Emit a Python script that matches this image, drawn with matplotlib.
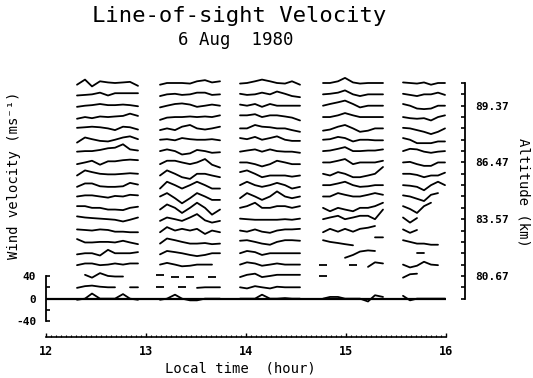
import matplotlib.pyplot as plt
import numpy as np

plt.rcParams['font.family'] = ['DejaVu Sans Mono', 'DejaVu Sans']

nan = np.nan

# DATA
# profile altitudes (km), top row first
altitudes = [90.53, 89.95, 89.37, 88.79, 88.21, 87.63, 87.05, 86.47, 85.89, 85.31,
             84.73, 84.15, 83.57, 82.99, 82.41, 81.83, 81.25, 80.67, 80.09, 79.51]

# sample times (local hour) for the five observing blocks
t1 = [12.31, 12.39, 12.46, 12.54, 12.62, 12.69, 12.77, 12.84, 12.92]
t2 = [13.14, 13.21, 13.29, 13.36, 13.44, 13.51, 13.59, 13.66, 13.74]
t3 = [13.94, 14.01, 14.09, 14.16, 14.24, 14.31, 14.39, 14.46, 14.54]
t4 = [14.77, 14.84, 14.92, 14.99, 15.07, 15.14, 15.22, 15.29, 15.37]
t5 = [15.57, 15.64, 15.71, 15.78, 15.85, 15.92, 15.99]

# line-of-sight wind (m/s), one row per altitude, nan = no data
v1 = [
    [-3, 6, -6, 3, 1, 0, 1, 2, -5],
    [-2, -1, 0, 3, -2, 2, 2, 2, 2],
    [-2, 0, 1, 3, 1, 1, 2, 1, -1],
    [-3, 0, -2, 1, 0, 1, 2, 6, 2],
    [1, 2, 3, 2, 0, -3, 3, 2, -2],
    [-5, 4, 1, -2, -3, 0, 4, 6, 1],
    [-1, 0, 0, 2, 5, 6, 12, 3, 1],
    [-3, 0, 3, -4, 2, 2, 4, 5, 4],
    [-3, 6, 3, 0, -1, -1, 0, 1, 0],
    [-3, 3, 3, -2, -3, -3, -2, 4, 1],
    [0, 2, 2, 0, -2, 1, 0, 3, 2],
    [3, 3, 0, 0, -3, -3, -4, 0, 2],
    [5, 3, 2, 1, 0, -1, -4, -1, 3],
    [2, 1, 0, 2, 1, -2, -2, -3, -3],
    [5, -1, -1, 0, 0, -1, 2, -1, -4],
    [-2, 0, 0, -4, 6, 0, 0, 0, 2],
    [-1, 2, 2, -1, 0, 2, 0, 2, 2],
    [nan, 2, -3, 5, 0, -1, -1, nan, nan],
    [-1, 2, 3, 1, 0, 0, nan, 0, 0],
    [-2, 0, 9, 0, 0, 0, 8, 0, -2],
]
v2 = [
    [-3, 0, 0, 0, -1, 3, 5, 1, 3],
    [-3, 0, 1, -1, 0, 3, 3, -1, 0],
    [-3, 0, 3, 4, 2, -2, 0, 2, 0],
    [-5, -1, 0, 0, 1, 0, 1, 0, 3],
    [-3, 0, -3, 3, 6, 0, -2, 0, 3],
    [0, 1, -1, 3, 1, 0, 0, 1, -1],
    [0, 3, 0, -6, -4, 2, 0, -3, -2],
    [-3, 3, 3, 0, -3, 0, 6, -4, -9],
    [-3, 6, 0, -6, -9, 0, 0, -3, -6],
    [-6, 6, 0, -6, 0, 6, 0, -6, -6],
    [0, 6, -3, -12, -3, 6, 0, -6, -6],
    [-3, 6, 0, -9, 0, 9, 0, -12, -3],
    [-3, 3, 0, -3, 3, 9, -2, -6, -3],
    [-3, 6, 0, 3, 0, 3, -6, 0, -3],
    [-3, 6, 3, 0, -3, -3, -2, -4, -3],
    [-2, 4, 2, 0, -3, -5, -3, 0, 0],
    [0, 3, 0, -3, -2, 0, 0, 0, nan],
    [2, nan, -2, nan, -2, nan, nan, -1, nan],
    [0, nan, nan, 0, nan, -1, 0, 0, 0],
    [-2, 0, 7, 0, -3, -3, 0, 0, 0],
]
v3 = [
    [-1, 0, 3, 6, 3, 0, -1, 3, -3],
    [1, -1, 0, 3, 0, 5, 1, -3, -5],
    [2, 0, 3, -2, 3, 0, 0, 0, 0],
    [3, 3, 5, 0, 3, 3, 1, -1, -6],
    [0, 0, 6, 3, 2, 0, 0, -3, -6],
    [3, 1, 5, 0, 3, 6, 0, -2, -2],
    [-1, 1, 3, -1, 3, 0, -1, -1, -3],
    [0, 0, -3, -7, -3, 3, 0, -3, -3],
    [3, 6, 0, -6, -3, -3, -3, -5, -3],
    [0, 6, 0, -3, 0, 4, 0, -6, -3],
    [-3, 6, 0, -6, 0, 9, 0, -3, 0],
    [0, 3, 9, 0, 0, 3, 3, 0, 3],
    [1, 0, -1, -1, -1, -1, 0, -1, 1],
    [0, -2, 2, -2, -4, 0, 2, 2, 3],
    [2, 3, 0, -3, -5, 0, 3, 3, 2],
    [0, 4, 2, -3, 0, 0, 0, 0, 0],
    [0, 4, 2, -2, 0, 2, 0, 0, 0],
    [-2, 2, 4, -2, 0, 2, 2, 2, 2],
    [0, -2, 2, 0, -2, 1, 0, 0, 0],
    [0, 0, 0, 7, 0, 0, 1, 0, 0],
]
v4 = [
    [0, 0, 3, 9, 1, -1, 0, 0, 0],
    [0, 1, 3, 7, 0, -3, 0, 0, 0],
    [0, 3, 6, 9, 3, -3, 0, 0, 0],
    [0, 0, 3, 7, 3, 0, 0, 0, 0],
    [-4, -2, 3, 6, 0, -6, -4, 0, 0],
    [0, 1, 5, 3, -3, 0, 0, -1, -1],
    [0, 1, 4, 7, 0, 0, 1, 1, 3],
    [0, 0, 3, 6, -3, 0, 0, 0, 3],
    [0, -3, 3, 0, -6, -6, -3, 0, 12],
    [0, 0, 3, 6, 0, -3, -2, 0, 0],
    [0, 0, 6, 3, 0, 0, 3, 6, 3],
    [0, -6, 0, -3, -6, 0, 0, 3, 9],
    [0, 3, 6, 0, 3, 6, 6, 0, 17],
    [-3, 3, -2, 3, -2, 3, 5, 8, nan],
    [3, 0, -2, -4, -6, nan, nan, 8, 8],
    [nan, nan, nan, -8, -3, 3, 5, 4, nan],
    [0, nan, nan, nan, 0, nan, -4, 4, 2],
    [0, nan, nan, nan, nan, nan, nan, nan, nan],
    [nan, nan, nan, nan, nan, nan, nan, nan, nan],
    [0, 3, 3, 0, 0, 0, -5, 6, 3],
]
v5 = [
    [1, 0, -1, 1, -3, 0, 0],
    [1, -1, -3, 0, 0, 3, -1],
    [3, 0, -5, -6, -5, 0, 0],
    [0, -2, -3, -2, -6, 0, 3],
    [1, 0, -3, -6, -10, -6, 0],
    [3, 0, -6, -6, -6, -3, -3],
    [0, 4, 3, -1, -3, -1, 0],
    [0, 1, -3, -6, -6, 0, 0],
    [0, 0, -2, -6, -3, -3, 2],
    [0, -1, -3, -9, 0, 6, 0],
    [2, 0, -4, -8, 3, 6, nan],
    [3, -2, -9, 3, 9, nan, nan],
    [3, -6, 2, nan, nan, nan, nan],
    [2, -4, 1, nan, nan, nan, nan],
    [3, 0, -3, -3, -5, -5, nan],
    [nan, nan, 1, 1, nan, nan, nan],
    [0, -5, -2, 5, 0, -1, nan],
    [-3, 3, 4, nan, nan, nan, nan],
    [nan, nan, nan, nan, nan, nan, nan],
    [5, -3, 0, 0, 0, 0, 0],
]

hour_ticks = [12, 13, 14, 15, 16]
alt_ticks = [80.67, 83.57, 86.47, 89.37]
vel_ticks = [-40, 0, 40]
vel_minor = [-20, 20]

KM_PER_MS = 0.58 / 20   # one row spacing = 20 m/s
BASE = altitudes[-1]    # zero of the velocity scale


def draw_block(ax, times, rows):
    times = np.asarray(times)
    for alt, row in zip(altitudes, rows):
        v = np.asarray(row, dtype=float)
        y = alt + v * KM_PER_MS
        ax.plot(times, y, color='k', lw=1.3, clip_on=False,
                solid_joinstyle='round', solid_capstyle='round')
        # lone samples show up as short dashes
        ok = np.isfinite(v)
        prev_ok = np.r_[False, ok[:-1]]
        next_ok = np.r_[ok[1:], False]
        lone = ok & ~prev_ok & ~next_ok
        if lone.any():
            ax.plot(times[lone], y[lone], ls='none', marker='_', ms=6,
                    mew=1.3, color='k', clip_on=False)


fig = plt.figure(figsize=(5.33, 3.78), dpi=100)
ax = fig.add_axes([46 / 533, 41 / 378, 400 / 533, 254 / 378])
ax.set_xlim(12, 16)
ax.set_ylim(77.55, 90.53)

for t, v in [(t1, v1), (t2, v2), (t3, v3), (t4, v4), (t5, v5)]:
    draw_block(ax, t, v)

ax.axhline(BASE, color='k', lw=1.6)

# velocity scale on the left
ax.spines['top'].set_visible(False)
ax.spines['right'].set_visible(False)
ax.spines['left'].set_bounds(BASE - 40 * KM_PER_MS, BASE + 40 * KM_PER_MS)
ax.spines['left'].set_linewidth(1.3)
ax.spines['bottom'].set_linewidth(1.2)
ax.set_yticks([BASE + v * KM_PER_MS for v in vel_ticks])
ax.set_yticklabels([str(v) for v in vel_ticks], fontsize=8, fontweight='bold')
ax.set_yticks([BASE + v * KM_PER_MS for v in vel_minor], minor=True)
ax.tick_params(axis='y', which='both', direction='in', length=3, width=1.2, pad=7)

# time axis
ax.set_xticks(hour_ticks)
ax.set_xticklabels([str(h) for h in hour_ticks], fontsize=8.5, fontweight='bold')
ax.set_xticks(np.arange(12, 16.001, 0.05), minor=True)
ax.tick_params(axis='x', which='major', direction='in', length=3, width=1, pad=6)
ax.tick_params(axis='x', which='minor', direction='in', length=1.8, width=0.8)

# altitude scale on the right
ax2 = ax.twinx()
ax2.set_ylim(ax.get_ylim())
for s in ['left', 'top', 'bottom']:
    ax2.spines[s].set_visible(False)
ax2.spines['right'].set_position(('outward', 13.7))
ax2.spines['right'].set_bounds(altitudes[-1], altitudes[0])
ax2.spines['right'].set_linewidth(1.3)
ax2.set_yticks(alt_ticks)
ax2.set_yticklabels([f'{a:.2f}' for a in alt_ticks], fontsize=8, fontweight='bold')
ax2.set_yticks(altitudes, minor=True)
ax2.tick_params(axis='y', which='both', direction='in', length=3, width=1.2, pad=7)

fig.text(239 / 533, 1 - 16 / 378, 'Line-of-sight Velocity', ha='center', va='center', fontsize=16)
fig.text(236 / 533, 1 - 40 / 378, '6 Aug  1980', ha='center', va='center', fontsize=12.5)
fig.text(240 / 533, 1 - 369 / 378, 'Local time  (hour)', ha='center', va='center', fontsize=10)
fig.text(14 / 533, 1 - 175 / 378, 'Wind velocity (ms\u207b\u00b9)', ha='center', va='center',
         rotation=90, fontsize=10)
fig.text(524 / 533, 1 - 192 / 378, 'Altitude (km)', ha='center', va='center',
         rotation=-90, fontsize=10)

fig.savefig('out.png', dpi=100, facecolor='white')
